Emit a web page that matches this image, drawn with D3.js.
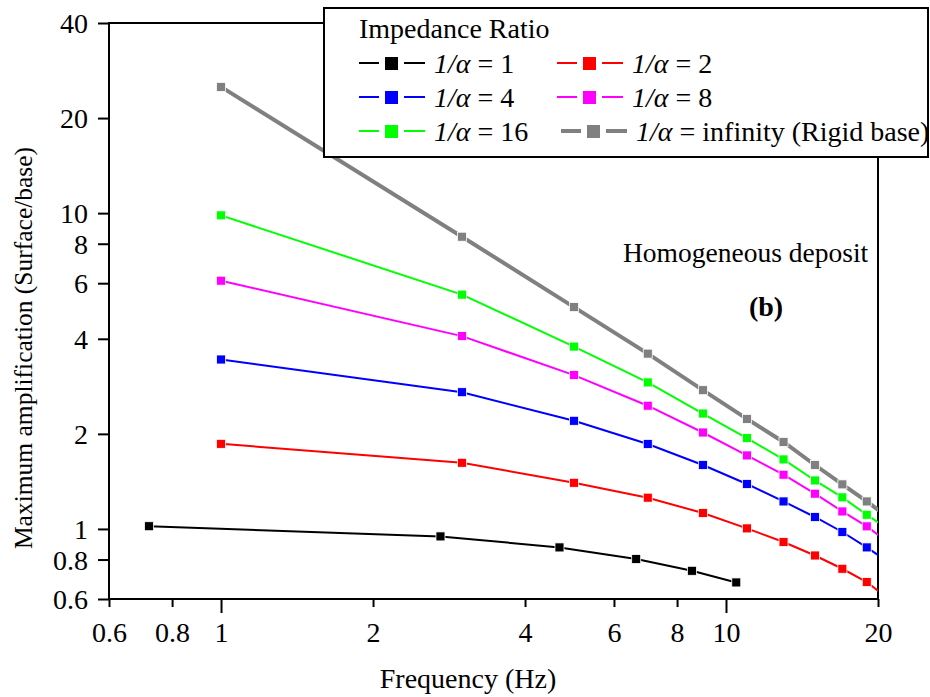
<!DOCTYPE html>
<meta charset="utf-8">
<style>
body { margin: 0; background: #fff; }
svg text { font-family: "Liberation Serif", "Times New Roman", serif; fill: #000; }
.frame { fill: none; stroke: #000; stroke-width: 2px; }
.tick line { stroke: #000; stroke-width: 2px; }
</style>
<body>
<script src="https://cdn.jsdelivr.net/npm/d3@7"></script>
<script>

var width = 930,
    height = 697;

// frequencies (Hz); the last one sits past the frame and is clipped
var freqs = [1, 3, 5, 7, 9, 11, 13, 15, 17, 19, 21];
var freqsR1 = [0.72, 2.72, 4.68, 6.64, 8.56, 10.48];

// maximum amplification per impedance ratio
var ampR1 = [1.02, 0.947, 0.874, 0.803, 0.737, 0.677];
var ampR2 = [1.86, 1.62, 1.40, 1.256, 1.123, 1.004, 0.909, 0.824, 0.748, 0.679, 0.60];
var ampR4 = [3.44, 2.71, 2.20, 1.858, 1.594, 1.388, 1.222, 1.091, 0.978, 0.874, 0.785];
var ampR8 = [6.11, 4.08, 3.07, 2.456, 2.02, 1.709, 1.485, 1.293, 1.136, 1.019, 0.905];
var ampR16 = [9.84, 5.52, 3.78, 2.91, 2.32, 1.94, 1.66, 1.424, 1.259, 1.109, 0.997];
var ampRigid = [25.1, 8.42, 5.04, 3.59, 2.75, 2.23, 1.885, 1.594, 1.384, 1.222, 1.085];

var xTicks = [0.6, 0.8, 1, 2, 4, 6, 8, 10, 20];
var yTicks = [0.6, 0.8, 1, 2, 4, 6, 8, 10, 20, 40];

var seriesLabels = ["1", "2", "4", "8", "16", "infinity (Rigid base)"];
var seriesColors = ["#000000", "#ff0000", "#0000ff", "#ff00ff", "#00ff00", "#808080"];

var series = [
  {x: freqsR1, y: ampR1},
  {x: freqs, y: ampR2},
  {x: freqs, y: ampR4},
  {x: freqs, y: ampR8},
  {x: freqs, y: ampR16},
  {x: freqs, y: ampRigid}
];
series.forEach(function(s, i) {
  s.label = seriesLabels[i];
  s.color = seriesColors[i];
  s.width = i == 5 ? 4 : 2;
  s.points = s.x.map(function(f, j) { return [f, s.y[j]]; });
});

var x0 = 109, x1 = 878, y0 = 599, y1 = 23;

var x = d3.scaleLog().domain([0.6, 20]).range([x0, x1]);
var y = d3.scaleLog().domain([0.6, 40]).range([y0, y1]);

var svg = d3.select("body").append("svg")
    .attr("width", width)
    .attr("height", height);

svg.append("clipPath").attr("id", "plot-clip")
  .append("rect")
    .attr("x", x0).attr("y", y1)
    .attr("width", x1 - x0).attr("height", y0 - y1);

// axes
var xAxis = svg.append("g")
    .attr("transform", "translate(0," + y0 + ")")
    .call(d3.axisBottom(x).tickValues(xTicks).tickFormat(d3.format("")).tickSizeOuter(0));
xAxis.select(".domain").remove();
xAxis.selectAll(".tick line")
    .attr("y2", function(d) { return (d == 1 || d == 10) ? 14 : 8; });
xAxis.selectAll(".tick text")
    .attr("y", 23).attr("dy", "0.71em")
    .style("font-size", "28px");

var yAxis = svg.append("g")
    .attr("transform", "translate(" + x0 + ",0)")
    .call(d3.axisLeft(y).tickValues(yTicks).tickFormat(d3.format("")).tickSize(11).tickSizeOuter(0));
yAxis.select(".domain").remove();
yAxis.selectAll(".tick text")
    .attr("x", -21)
    .attr("dy", "0.34em")
    .style("font-size", "28px");

svg.append("rect").attr("class", "frame")
    .attr("x", x0).attr("y", y1)
    .attr("width", x1 - x0).attr("height", y0 - y1);

// series
var line = d3.line()
    .x(function(d) { return x(d[0]); })
    .y(function(d) { return y(d[1]); });

var plot = svg.append("g").attr("clip-path", "url(#plot-clip)");

plot.selectAll(".series")
    .data(series)
    .enter().append("path")
    .attr("fill", "none")
    .attr("stroke", function(d) { return d.color; })
    .attr("stroke-width", function(d) { return d.width; })
    .attr("d", function(d) { return line(d.points); });

var ms = 9;
plot.selectAll(".markers")
    .data(series)
    .enter().append("g")
    .attr("fill", function(d) { return d.color; })
  .selectAll("rect")
    .data(function(d) { return d.points; })
    .enter().append("rect")
    .attr("x", function(d) { return x(d[0]) - ms / 2; })
    .attr("y", function(d) { return y(d[1]) - ms / 2; })
    .attr("width", ms).attr("height", ms)
    .attr("stroke", "#fff").attr("stroke-width", 0.8);

// annotations
svg.append("text")
    .attr("x", 623).attr("y", 262)
    .style("font-size", "27.5px")
    .text("Homogeneous deposit");

svg.append("text")
    .attr("x", 766).attr("y", 316)
    .attr("text-anchor", "middle")
    .style("font-size", "28px").style("font-weight", "bold")
    .text("(b)");

svg.append("text")
    .attr("x", 468).attr("y", 688)
    .attr("text-anchor", "middle")
    .style("font-size", "28px")
    .text("Frequency (Hz)");

svg.append("text")
    .attr("transform", "translate(32,348) rotate(-90)")
    .attr("text-anchor", "middle")
    .style("font-size", "25.5px")
    .text("Maximum amplification (Surface/base)");

// legend
var legend = svg.append("g");
legend.append("rect")
    .attr("x", 324).attr("y", 8)
    .attr("width", 604).attr("height", 149)
    .attr("fill", "#fff").attr("stroke", "#000").attr("stroke-width", 2);

legend.append("text")
    .attr("x", 359).attr("y", 38)
    .style("font-size", "28px")
    .text("Impedance Ratio");

var colX = [359, 557], rowY = [73, 107, 141];

var item = legend.selectAll(".item")
    .data(series)
    .enter().append("g")
    .attr("transform", function(d, i) {
      var dx = i == 5 ? 4 : 0;
      return "translate(" + (colX[i % 2] + dx) + "," + rowY[Math.floor(i / 2)] + ")";
    });

item.append("line")
    .attr("x1", 0).attr("x2", 20).attr("y1", -10).attr("y2", -10)
    .attr("stroke", function(d) { return d.color; })
    .attr("stroke-width", function(d) { return d.width == 4 ? 4 : 2; });
item.append("line")
    .attr("x1", 45).attr("x2", 66).attr("y1", -10).attr("y2", -10)
    .attr("stroke", function(d) { return d.color; })
    .attr("stroke-width", function(d) { return d.width == 4 ? 4 : 2; });
item.append("rect")
    .attr("x", 26).attr("y", -16)
    .attr("width", 13).attr("height", 13)
    .attr("fill", function(d) { return d.color; });

var label = item.append("text")
    .attr("x", 75)
    .style("font-size", "28px");
label.append("tspan").style("font-style", "italic").text("1/\u03b1");
label.append("tspan").text(function(d) { return " = " + d.label; });

</script>
